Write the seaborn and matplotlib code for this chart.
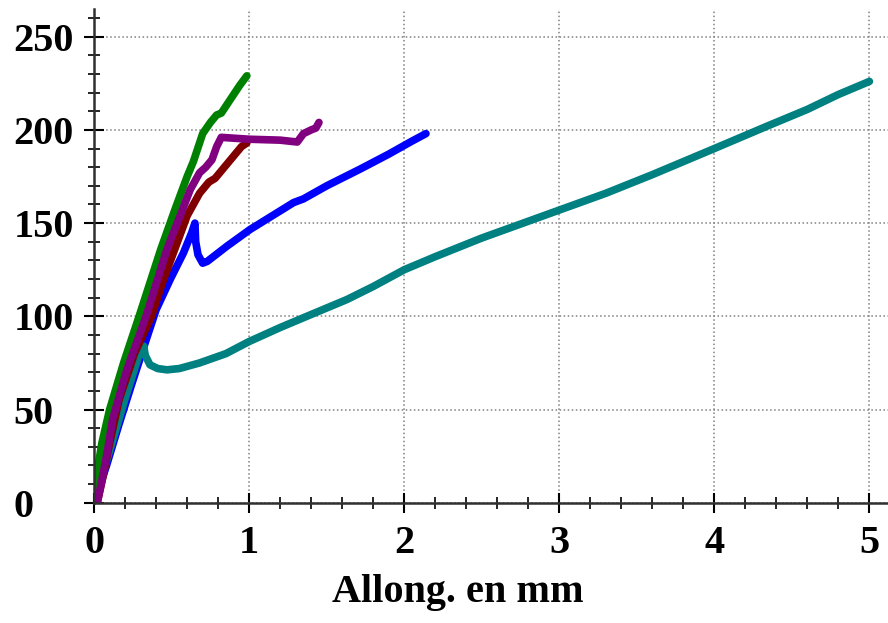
import numpy as np
import seaborn as sns
import matplotlib.pyplot as plt
from matplotlib.ticker import MultipleLocator

# courbes force / allongement
green_x = [0, 0.02, 0.05, 0.10, 0.19, 0.29, 0.43, 0.52, 0.60, 0.64, 0.70, 0.75, 0.79, 0.82, 0.86, 0.90, 0.94, 0.985]
green_y = [0, 17, 32, 50, 75, 100, 136, 157, 175, 183, 198, 204, 208, 209, 214, 219, 224, 229]

purple_x = [0.02, 0.05, 0.08, 0.12, 0.21, 0.335, 0.47, 0.555, 0.62, 0.68, 0.72, 0.76, 0.79, 0.82, 1.0, 1.2, 1.31, 1.35, 1.40, 1.43, 1.45]
purple_y = [0, 12, 25, 45, 71, 100, 136, 154, 168, 177, 180, 184, 191, 196, 195, 194.5, 193.5, 198, 200, 201, 204]

maroon_x = [0.02, 0.06, 0.10, 0.16, 0.26, 0.37, 0.44, 0.52, 0.60, 0.68, 0.74, 0.78, 0.84, 0.90, 0.95, 0.985]
maroon_y = [0, 15, 32, 55, 80, 100, 118, 136, 154, 166, 172, 174, 180, 186, 191, 193]

blue_x = [0, 0.08, 0.16, 0.24, 0.33, 0.40, 0.49, 0.576, 0.63, 0.65, 0.655, 0.67, 0.70, 0.73, 0.856, 1.006, 1.15, 1.286, 1.35, 1.5, 1.716, 1.9, 2.05, 2.14]
blue_y = [0, 20, 42, 63, 86, 103.6, 119.7, 134, 145, 150, 140, 133, 128.5, 129.5, 137.6, 146.6, 154, 161, 163, 170, 179, 187, 194, 198]

teal_x = [0, 0.1, 0.2, 0.3, 0.32, 0.33, 0.36, 0.41, 0.47, 0.55, 0.68, 0.85, 1.0, 1.2, 1.4, 1.63, 1.8, 2.0, 2.2, 2.5, 2.8, 3.0, 3.3, 3.6, 4.0, 4.34, 4.6, 4.8, 5.0]
teal_y = [0, 28, 56, 82, 84, 79, 74, 72, 71.3, 72, 75, 80, 86.5, 94, 101, 109, 116, 125, 132, 142, 151, 157, 166, 176, 190, 202, 211, 219, 226]

sns.set_style("white")
plt.rcParams['font.family'] = ['Liberation Serif', 'DejaVu Serif']
plt.rcParams['font.weight'] = 'bold'

fig = plt.figure(figsize=(8.88, 6.23), dpi=100)
ax = fig.add_axes([0.106, 0.193, 0.894, 0.793])

lw = 5.5
sns.lineplot(x=blue_x, y=blue_y, sort=False, color='#0000FF', lw=lw, ax=ax)
sns.lineplot(x=teal_x, y=teal_y, sort=False, color='#008080', lw=lw, ax=ax)
sns.lineplot(x=maroon_x, y=maroon_y, sort=False, color='#800000', lw=lw, ax=ax)
sns.lineplot(x=green_x, y=green_y, sort=False, color='#008000', lw=lw, ax=ax)
sns.lineplot(x=purple_x, y=purple_y, sort=False, color='#800080', lw=lw, ax=ax)

ax.set_xlim(0, 5.12)
ax.set_ylim(0, 265)
ax.xaxis.set_major_locator(MultipleLocator(1))
ax.xaxis.set_minor_locator(MultipleLocator(0.2))
ax.yaxis.set_major_locator(MultipleLocator(50))
ax.yaxis.set_minor_locator(MultipleLocator(10))

ax.grid(True, which='major', color='#808080', linestyle=':', linewidth=1.1)
for s in ['top', 'right']:
    ax.spines[s].set_visible(False)
for s in ['left', 'bottom']:
    ax.spines[s].set_color('#303030')
    ax.spines[s].set_linewidth(1.8)

ax.tick_params(which='both', bottom=True, left=True, top=False, right=False)
ax.tick_params(which='major', direction='inout', length=14, width=1.5, color='black',
               labelsize=29, labelcolor='black')
ax.tick_params(which='minor', direction='inout', length=8.5, width=1.2, color='black')
# étiquettes de l'axe y alignées à gauche
ax.tick_params(axis='y', which='major', pad=51)
ax.tick_params(axis='x', which='major', pad=9)
for lab in ax.get_yticklabels():
    lab.set_horizontalalignment('left')
for lab in ax.get_xticklabels() + ax.get_yticklabels():
    lab.set_fontweight('bold')

ax.set_xlabel('Allong. en mm', fontsize=29, fontweight='bold', color='black')
ax.xaxis.set_label_coords(0.458, -0.145)

plt.savefig('out.png', dpi=100)
